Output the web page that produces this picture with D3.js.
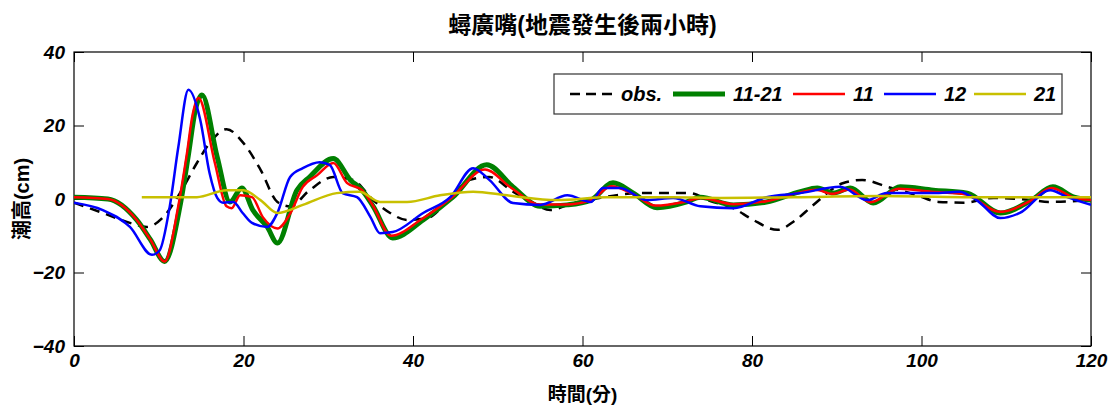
<!DOCTYPE html>
<html>
<head>
<meta charset="utf-8">
<script src="https://cdn.jsdelivr.net/npm/d3@7"></script>
<style>
  body { margin: 0; background: #fff; }
  text { font-family: "Liberation Sans", Arial, "Noto Sans CJK TC", sans-serif; }
</style>
</head>
<body>
<div id="chart"></div>
<script>
// data (time in minutes, height in cm)
const obsT = [0, 3.4, 6.6, 8.6, 10.5, 12.5, 14.5, 16, 18, 20, 22, 24, 25.5, 27.8, 30.6, 32.9, 35.3, 37.3, 39.3, 41.7, 44, 46.7, 49, 51.8, 54.2, 56.2, 58.9, 62, 66.8, 72.7, 75, 77.8, 80, 83, 85, 87.2, 90.7, 93, 96, 99.5, 102, 105, 108.5, 113, 115, 120]
const obsV = [-1, -3.8, -6.5, -7.6, -5, 1.6, 9.8, 15.2, 19, 15.2, 8, -0.8, -2, 2.4, 6, 5.2, -0.3, -3.8, -5.7, -5.2, -0.8, 5.2, 6, 2, -1.1, -3, -1.1, 0.3, 1.6, 1.6, -0.5, -2.5, -5.5, -8.4, -6, -1.7, 4.3, 5.2, 3.3, 1, -0.8, -1, 0.3, -0.3, -0.8, -0.3]

const g1121T = [0, 4, 7.4, 9, 10.7, 12.5, 13.5, 14.3, 15.1, 16.9, 18.4, 19.8, 21.1, 22.8, 24, 26.3, 27.8, 30.6, 32.6, 34, 35.3, 37.6, 41.2, 44.7, 48.7, 51.8, 55, 58.2, 61, 63.6, 66, 68.8, 72.3, 73.9, 77.8, 81.7, 85.7, 87.7, 89.6, 91.6, 94.3, 97.5, 101.4, 105.4, 109.3, 113, 115.5, 118, 120]
const g1121V = [0.5, 0, -5.7, -11, -17, -2, 12, 24, 28.3, 11.4, -0.8, 3, -3, -7.6, -12, 2.4, 6, 11, 5.2, 2.4, -2, -10.6, -5.7, 0.5, 9.3, 3.3, -2, -1.6, -0.3, 4.4, 1.6, -2.4, -0.8, 0.5, -1.6, -0.8, 2, 3, 1.6, 3, -1.1, 3.3, 2.4, 1.6, -3.8, -0.3, 3.3, 0.5, -0.3]

const g11T = [0, 4, 7.4, 9, 10.7, 12.3, 13.3, 14, 14.7, 16.6, 18, 18.6, 19.6, 21, 22.3, 24, 25.5, 27, 28.7, 30.6, 32.2, 34, 35.2, 37.4, 41, 44.5, 48.5, 51.6, 55, 58, 61, 63.4, 66, 68.6, 72, 74, 77.8, 81.7, 85.7, 87.5, 89.5, 91.5, 94, 97.3, 101.2, 105.2, 109.2, 113, 115.3, 118, 120]
const g11V = [0.5, 0, -5.7, -11, -17, -2, 12, 23, 27.5, 10, -2, -2.5, 1, 0.5, -5, -8, -4, 3.3, 6.5, 9.8, 4.4, 2.4, -1.5, -10, -5.5, 0.3, 8, 3, -1.5, -1.5, -0.3, 3.5, 1.3, -1.8, -0.8, 0.3, -1.4, -0.6, 1.8, 2.5, 1.4, 2.6, -0.9, 2.8, 2, 1.3, -3.5, -0.3, 3, 0.4, -0.3]

const g12T = [0, 3.4, 6.6, 9.2, 10.1, 11.3, 12.3, 13.5, 14.9, 16, 16.9, 17.6, 18.8, 19.9, 21, 22.8, 24, 25.5, 27, 29, 30.2, 31.7, 33.4, 35, 36.1, 37.6, 41.2, 44.4, 47.1, 49, 51.8, 55, 58.2, 61, 62.4, 64.4, 67.6, 70.7, 73.9, 77.8, 81.7, 85.7, 90.4, 93.6, 95.9, 101.4, 104.5, 106.5, 109.3, 111.6, 115.2, 117.2, 120]
const g12V = [-1, -3, -7.6, -15.2, -14, -2, 14, 29.7, 21.5, 7, 0.3, -1, -0.8, -3.8, -6.5, -7.6, -3.8, 6, 8.4, 10, 9.2, 1.6, 0.5, -5, -9.3, -9, -3.8, 0.5, 8.4, 5.2, -1.1, -1.6, 1, -0.8, 3, 3, -0.3, 0.3, -2, -2.5, 0.5, 1.6, 3.3, -0.3, 1.6, 1.6, 2, -0.3, -5.2, -3.8, 2.4, 0.5, -1.6]

const g21T = [8, 14.5, 18, 20, 22, 24, 27, 31, 33.7, 36.1, 39.3, 43.2, 47.1, 51.1, 57, 62.9, 70.7, 76.2, 85, 95, 105, 120]
const g21V = [0.5, 0.5, 2.4, 2.4, -0.3, -3.8, -1.6, 1.6, 2, -0.8, -0.8, 1, 2, 1, -0.3, 0.5, 0.5, 0.3, 0.5, 0.8, 0.5, 0.5]

const seriesNames = ['obs.', '11-21', '11', '12', '21']
const xTicks = [0, 20, 40, 60, 80, 100, 120]
const yTicks = [-40, -20, 0, 20, 40]

const series = [
  { name: seriesNames[0], t: obsT, v: obsV, color: '#000', w: 2.5, dash: '10,7' },
  { name: seriesNames[1], t: g1121T, v: g1121V, color: '#008000', w: 5, dash: null },
  { name: seriesNames[2], t: g11T, v: g11V, color: '#ff0000', w: 2.5, dash: null },
  { name: seriesNames[3], t: g12T, v: g12V, color: '#0000ff', w: 2.5, dash: null },
  { name: seriesNames[4], t: g21T, v: g21V, color: '#c8c000', w: 2.5, dash: null }
]

// set the dimensions and margins of the graph
const margin = { top: 52, right: 25, bottom: 62, left: 74 }
const width = 1116 - margin.left - margin.right
const height = 408 - margin.top - margin.bottom

const svg = d3.select('#chart')
  .append('svg')
  .attr('width', 1116)
  .attr('height', 408)

const g = svg.append('g')
  .attr('transform', 'translate(' + margin.left + ',' + margin.top + ')')

const x = d3.scaleLinear().domain([0, 120]).range([0, width])
const y = d3.scaleLinear().domain([-40, 40]).range([height, 0])

// inward ticks on all four sides, matlab style
const tick = 10
g.append('g')
  .attr('transform', 'translate(0,' + height + ')')
  .call(d3.axisBottom(x).tickValues(xTicks).tickSizeInner(-tick).tickSizeOuter(0).tickPadding(8))
g.append('g')
  .call(d3.axisTop(x).tickValues(xTicks).tickSizeInner(-tick).tickSizeOuter(0).tickFormat(''))
g.append('g')
  .call(d3.axisLeft(y).tickValues(yTicks).tickSizeInner(-tick).tickSizeOuter(0).tickPadding(9))
g.append('g')
  .attr('transform', 'translate(' + width + ',0)')
  .call(d3.axisRight(y).tickValues(yTicks).tickSizeInner(-tick).tickSizeOuter(0).tickFormat(''))

g.selectAll('.domain').remove()
g.selectAll('.tick line').attr('stroke', '#000').attr('stroke-width', 1)
g.selectAll('.tick text')
  .attr('fill', '#000')
  .style('font-size', '19px')
  .style('font-weight', 'bold')
  .style('font-style', 'italic')

g.append('rect')
  .attr('width', width)
  .attr('height', height)
  .attr('fill', 'none')
  .attr('stroke', '#000')
  .attr('stroke-width', 1.2)

// the lines
const clip = g.append('clipPath').attr('id', 'clip')
clip.append('rect').attr('width', width).attr('height', height)

const line = d3.line()
  .x(function (d) { return x(d[0]) })
  .y(function (d) { return y(d[1]) })
  .curve(d3.curveMonotoneX)

series.forEach(function (s) {
  g.append('path')
    .datum(d3.zip(s.t, s.v))
    .attr('clip-path', 'url(#clip)')
    .attr('fill', 'none')
    .attr('stroke', s.color)
    .attr('stroke-width', s.w)
    .attr('stroke-dasharray', s.dash)
    .attr('stroke-linejoin', 'round')
    .attr('d', line)
})

// legend
const lg = svg.append('g').attr('transform', 'translate(554,74)')
lg.append('rect')
  .attr('width', 508)
  .attr('height', 40)
  .attr('fill', '#fff')
  .attr('stroke', '#333')
  .attr('stroke-width', 1.2)

const legendX = [16, 119, 239, 330, 420]
const legendLen = [43, 52, 52, 52, 52]
series.forEach(function (s, i) {
  const lx = legendX[i]
  lg.append('line')
    .attr('x1', lx).attr('x2', lx + legendLen[i])
    .attr('y1', 20).attr('y2', 20)
    .attr('stroke', s.color)
    .attr('stroke-width', s.w)
    .attr('stroke-dasharray', s.dash ? '10,6' : null)
  lg.append('text')
    .attr('x', lx + legendLen[i] + 8)
    .attr('y', 27)
    .style('font-size', '20px')
    .style('font-weight', 'bold')
    .style('font-style', 'italic')
    .text(s.name)
})

// titles
svg.append('text')
  .attr('x', margin.left + width / 2)
  .attr('y', 33)
  .attr('text-anchor', 'middle')
  .style('font-size', '23px')
  .style('font-weight', 'bold')
  .text('蟳廣嘴(地震發生後兩小時)')

svg.append('text')
  .attr('x', margin.left + width / 2)
  .attr('y', 401)
  .attr('text-anchor', 'middle')
  .style('font-size', '19px')
  .style('font-weight', 'bold')
  .text('時間(分)')

svg.append('text')
  .attr('transform', 'translate(29,' + (margin.top + height / 2) + ') rotate(-90)')
  .attr('text-anchor', 'middle')
  .style('font-size', '20px')
  .style('font-weight', 'bold')
  .text('潮高(cm)')
</script>
</body>
</html>
